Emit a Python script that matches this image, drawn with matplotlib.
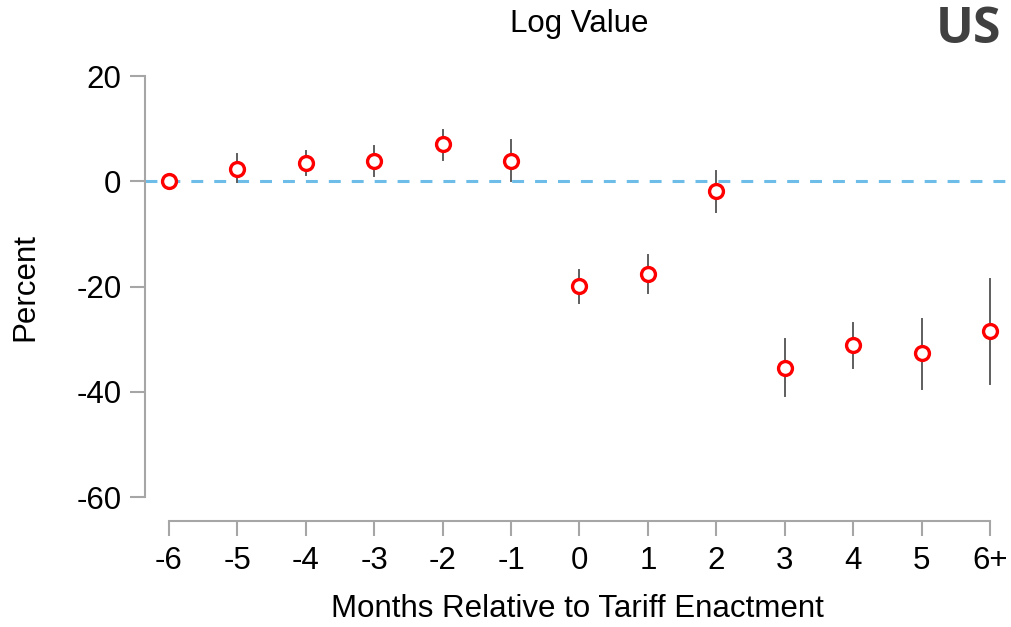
import numpy as np
import matplotlib.pyplot as plt

plt.rcParams['font.family'] = ['Liberation Sans', 'DejaVu Sans']
plt.rcParams['axes.unicode_minus'] = False

# months relative to tariff enactment
labels = ['-6', '-5', '-4', '-3', '-2', '-1', '0', '1', '2', '3', '4', '5', '6+']
months = [-6, -5, -4, -3, -2, -1, 0, 1, 2, 3, 4, 5, 6]

# point estimates (percent) and confidence bounds
est = [0.0, 2.4, 3.4, 3.8, 7.0, 3.8, -19.9, -17.6, -1.9, -35.4, -31.2, -32.7, -28.5]
ci_hi = [0.0, 5.1, 5.7, 6.7, 9.8, 7.8, -16.8, -14.0, 1.9, -30.0, -26.9, -26.2, -18.5]
ci_lo = [0.0, -0.1, 1.1, 0.95, 4.0, 0.1, -23.1, -21.2, -5.8, -40.9, -35.5, -39.4, -38.5]

axis_grey = '#a6a6a6'
fs = 22.5

fig = plt.figure(figsize=(10.12, 6.27), dpi=100)
ax = fig.add_axes([145 / 1012, 1 - 521 / 627, 865 / 1012, 445 / 627])

ax.axhline(0, color='#6dbde8', lw=2.2, ls=(0, (3.9, 3.6)), zorder=1)

# error bars (skip the reference month)
for x, lo, hi in zip(months, ci_lo, ci_hi):
    if hi != lo:
        ax.plot([x, x], [lo, hi], color='#5e5e5e', lw=1.4, zorder=2)

ax.plot(months, est, ls='none', marker='o', ms=10, mfc='white',
        mec='#ff0000', mew=2.4, zorder=3)

ax.set_xlim(-6 - 24 / 68.42, 6 + 20 / 68.42)
ax.set_ylim(-60 - 24 / 5.265, 20)

for s in ['top', 'right']:
    ax.spines[s].set_visible(False)
ax.spines['left'].set_bounds(-60, 20)
ax.spines['bottom'].set_bounds(-6, 6)
for s in ['left', 'bottom']:
    ax.spines[s].set_color(axis_grey)
    ax.spines[s].set_linewidth(1.5)

ax.set_xticks(months)
ax.set_xticklabels(labels)
ax.set_yticks([20, 0, -20, -40, -60])
ax.tick_params(axis='both', length=11, width=1.5, color=axis_grey, labelsize=fs)
ax.tick_params(axis='y', pad=6)
ax.tick_params(axis='x', pad=7)

ax.set_xlabel('Months Relative to Tariff Enactment', fontsize=fs, labelpad=13)
fig.text(25 / 1012, 1 - 287 / 627, 'Percent', rotation=90, fontsize=fs,
         ha='center', va='center')
fig.text(579 / 1012, 1 - 24 / 627, 'Log Value', fontsize=fs, ha='center', va='center')
fig.text(1001 / 1012, 1 - 30 / 627, 'US', fontsize=36, fontweight='bold',
         family='Open Sans', color='#404040', ha='right', va='center')

fig.savefig('out.png', dpi=100)
